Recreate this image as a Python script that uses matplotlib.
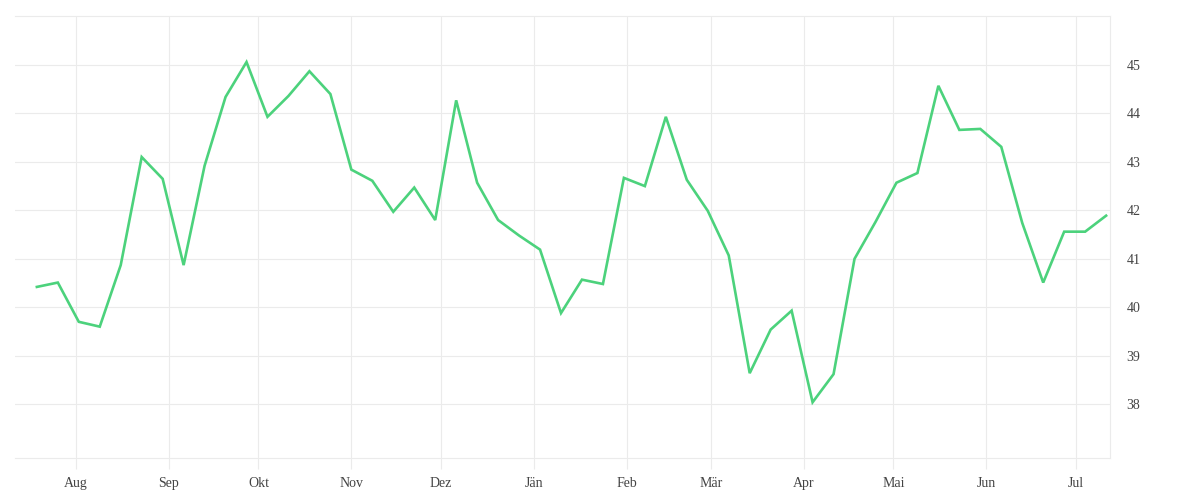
import numpy as np
import pandas as pd
import matplotlib
matplotlib.use("Agg")
import matplotlib.pyplot as plt
import matplotlib.dates as mdates

# weekly values, Jul 2021 - Jul 2022
dates = pd.date_range("2021-07-19", periods=52, freq="7D")
values = [40.42, 40.51, 39.70, 39.60, 40.87, 43.10, 42.65, 40.87, 42.92, 44.34,
          45.06, 43.93, 44.36, 44.87, 44.40, 42.84, 42.61, 41.97, 42.47, 41.80,
          44.27, 42.57, 41.80, 41.48, 41.19, 39.88, 40.57, 40.48, 42.67, 42.50,
          43.93, 42.63, 41.99, 41.07, 38.64, 39.54, 39.93, 38.04, 38.62, 41.00,
          41.76, 42.57, 42.77, 44.57, 43.66, 43.68, 43.31, 41.74, 40.51, 41.56,
          41.56, 41.89]
month_labels = ["Aug", "Sep", "Okt", "Nov", "Dez", "Jän", "Feb", "Mär", "Apr",
                "Mai", "Jun", "Jul"]
yticks = [38, 39, 40, 41, 42, 43, 44, 45]

plt.rcParams['font.family'] = ['Liberation Serif', 'DejaVu Serif']
grid_col = "#ebebeb"

fig = plt.figure(figsize=(12, 5), dpi=100)
ax = fig.add_axes([0.0125, 0.084, 0.9125, 0.884])

ax.plot(dates, values, color="#4cd27c", linewidth=1.9, solid_joinstyle="miter")

ax.set_xlim(dates[0] - pd.Timedelta(days=7.3), dates[-1] + pd.Timedelta(days=1.3))
ax.set_ylim(36.89, 46.01)

month_ticks = pd.date_range("2021-08-01", periods=12, freq="MS")
ax.set_xticks(month_ticks)
ax.set_xticklabels(month_labels)
ax.set_yticks(yticks)
ax.yaxis.tick_right()

ax.grid(True, color=grid_col, linewidth=0.8)
ax.set_axisbelow(True)
for side in ["left"]:
    ax.spines[side].set_visible(False)
for side in ["top", "bottom", "right"]:
    ax.spines[side].set_color(grid_col)
    ax.spines[side].set_linewidth(0.8)

ax.tick_params(axis="x", length=8, color=grid_col, width=0.8, pad=6,
               labelsize=10, labelcolor="#444444")
ax.tick_params(axis="y", length=0, pad=12, labelsize=10, labelcolor="#444444")

fig.savefig("out.png", dpi=100, facecolor="white")
